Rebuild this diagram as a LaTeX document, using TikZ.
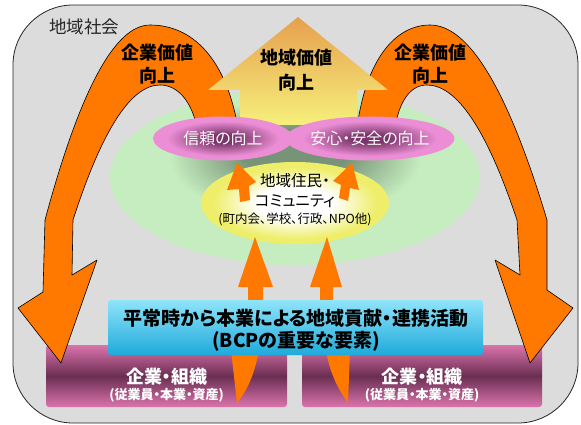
\documentclass[tikz,border=0pt]{standalone}
\usepackage{fontspec}
\setmainfont{Noto Sans CJK JP}[RawFeature=+palt]
\usetikzlibrary{shapes.geometric}
\definecolor{bggray}{HTML}{DCDCDC}
\definecolor{orng}{HTML}{FF7800}
\definecolor{grnD}{HTML}{789478}
\definecolor{grnL}{HTML}{C6EDBF}
\definecolor{pnkD}{HTML}{7A366A}
\definecolor{pnkL}{HTML}{EC8ED6}
\definecolor{yelL}{HTML}{EEEE6A}
\definecolor{arrTop}{HTML}{E6A04E}
\definecolor{arrBot}{HTML}{F6F07C}
\definecolor{bluT}{HTML}{8FE4FA}
\definecolor{bluB}{HTML}{1FAADB}
\definecolor{boxP}{HTML}{DB74AC}
\definecolor{boxD}{HTML}{6A2E52}
\pgfdeclareradialshading{greenell}{\pgfpoint{0bp}{8bp}}{color(0bp)=(grnD); color(7bp)=(grnD); color(17bp)=(grnL); color(50bp)=(grnL)}
\pgfdeclareradialshading{pinkell}{\pgfpoint{0bp}{0bp}}{color(0bp)=(pnkD); color(5bp)=(pnkD); color(20bp)=(pnkL); color(50bp)=(pnkL)}
\pgfdeclareradialshading{yelell}{\pgfpoint{0bp}{0bp}}{color(0bp)=(white); color(10bp)=(white); color(22bp)=(yelL); color(50bp)=(yelL)}
\begin{document}
\begin{tikzpicture}[x=1pt,y=-1pt,
  archfill/.style={fill=orng, draw=black, line width=0.6pt, line join=round},
  fatarrow/.style={fill=orng, draw=none},
  archtxt/.style={font=\fontsize{18}{23}\selectfont\bfseries, align=center, inner sep=0pt},
  pinkellipse/.style={ellipse, shade, shading=pinkell, draw=none, inner sep=0pt, minimum height=44pt, text=white, font=\fontsize{16}{16}\selectfont},
  orgbox/.style={rectangle, rounded corners=3pt, top color=boxP, bottom color=boxP, middle color=boxD, draw=none, minimum width=241pt, minimum height=62pt, inner sep=0pt},
  orgtxt/.style={text=white, align=center, inner sep=0pt, font=\fontsize{18}{18}\selectfont\bfseries}
]
\useasboundingbox (0,0) rectangle (581,425);
% outer community area
\draw[fill=bggray, draw=black!85, line width=0.8pt, rounded corners=60pt] (13,5) rectangle (578,423);
\node[anchor=center, inner sep=0pt, font=\fontsize{17.5}{17.5}\selectfont, text=black!85] (society) at (84,27) {地域社会};
% green glow
\shade[shading=greenell] (295,177) ellipse [x radius=185pt, y radius=88pt];
% company boxes
\node[orgbox] (orgL) at (166.5,376) {};
\node[orgbox, minimum width=240pt] (orgR) at (422,376) {};
% left arch
\draw[archfill] (238,128) .. controls (226,58) and (192,25) .. (150,25)
  .. controls (115,25) and (80,90) .. (45,220) -- (43,292) -- (18,308) -- (61,363) -- (97,260) -- (72,275) -- (73,220)
  .. controls (102,130) and (131,85) .. (160,85)
  .. controls (178,85) and (192,102) .. (197,128) -- cycle;
% right arch
\draw[archfill] (357,128) .. controls (366,60) and (395,25) .. (430,25)
  .. controls (469,25) and (508,90) .. (547,220) -- (547,290) -- (573,308) -- (530,363) -- (495,260) -- (520,275) -- (517,220)
  .. controls (487,130) and (457,85) .. (427,85)
  .. controls (410,85) and (399,102) .. (395,128) -- cycle;
% big regional value arrow
\shade[top color=arrTop, bottom color=arrBot] (298,17) -- (388,90) -- (357,90) -- (357,125) -- (240,125) -- (240,90) -- (208,90) -- cycle;
% pink ellipses
\node[pinkellipse, minimum width=140pt] (trust) at (223,138.5) {信頼の向上};
\node[pinkellipse, minimum width=145pt] (safety) at (370,138.5) {安心・安全の向上};
% community ellipse
\node[ellipse, shade, shading=yelell, draw=none, minimum width=188pt, minimum height=82pt, inner sep=0pt] (comm) at (295,203) {};
\node[align=center, inner sep=0pt, font=\fontsize{15.5}{20}\selectfont] (commtxt) at (295,200) {地域住民・\\コミュニティ\\[-3pt]{\fontsize{12.5}{14}\selectfont (町内会、学校、行政、NPO他)}};
% small arrows to pink ellipses
\fill[fatarrow] (237,163) -- (256,182) -- (249,186) -- (250,200) -- (240,202) -- (239,189) -- (227,190) -- cycle;
\fill[fatarrow] (352,163) -- (359,190) -- (350,188) -- (348,201) -- (339,198) -- (341,185) -- (333,181) -- cycle;
% tall arrows from companies to community
\fill[fatarrow] (255,237) -- (273,287) -- (263,287) -- (263,330) -- (248,330) -- (248,287) -- (238,287) -- cycle;
\fill[fatarrow] (231,350) -- (259,350) .. controls (254,378) and (245,393) .. (237,403) -- cycle;
\fill[fatarrow] (327,237) -- (342,287) -- (333,287) -- (333,330) -- (320,330) -- (320,287) -- (310,287) -- cycle;
\fill[fatarrow] (326,350) -- (350,350) -- (348,403) .. controls (339,390) and (330,375) .. (326,350) -- cycle;
% activity box
\node[rectangle, rounded corners=3pt, top color=bluT, bottom color=bluB, draw=none, minimum width=375pt, minimum height=55pt, inner sep=0pt] (bcp) at (295.5,327.5) {};
\node[align=center, inner sep=0pt, font=\fontsize{19}{22}\selectfont\bfseries] (bcptxt) at (296,330) {平常時から本業による地域貢献・連携活動\\(BCPの重要な要素)};
% company texts
\node[orgtxt] (orgLtxt) at (166.5,385) {企業・組織\\[-2pt]{\fontsize{13}{14}\selectfont (従業員・本業・資産)}};
\node[orgtxt] (orgRtxt) at (422,385) {企業・組織\\[-2pt]{\fontsize{13}{14}\selectfont (従業員・本業・資産)}};
% arch and arrow labels
\node[archtxt] (cvL) at (157.5,64.5) {企業価値\\向上};
\node[archtxt] (cvR) at (430,64.5) {企業価値\\向上};
\node[archtxt, font=\fontsize{18}{25}\selectfont\bfseries] (rv) at (296,70.5) {地域価値\\向上};
\end{tikzpicture}
\end{document}
